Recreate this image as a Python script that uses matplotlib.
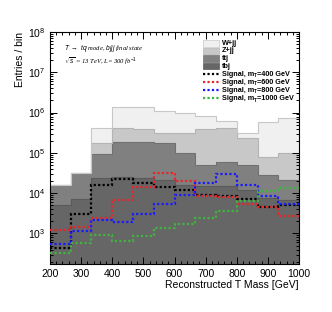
import numpy as np
import matplotlib
matplotlib.use("Agg")
import matplotlib.pyplot as plt
from matplotlib.patches import Rectangle
from matplotlib.ticker import MultipleLocator, LogLocator, NullFormatter

# ---- data ----
bin_edges = [200, 266.67, 333.33, 400, 466.67, 533.33, 600, 666.67, 733.33, 800, 866.67, 933.33, 1000]
tbj = [5100, 7000, 24000, 25000, 24000, 21000, 16000, 15000, 15000, 12000, 7600, 6800]
ttj = [10900, 25000, 68000, 165000, 159000, 152000, 82000, 35000, 44000, 38000, 20400, 14200]
zjj = [0, 0, 84000, 217000, 202000, 133000, 208000, 331000, 348000, 184000, 51000, 79000]
wjj = [0, 0, 231000, 973000, 975000, 794000, 694000, 439000, 213000, 76000, 501000, 620000]
sig400 = [445, 2990, 15700, 22900, 17600, 14500, 11700, 9000, 8500, 7200, 4500, 5100]
sig600 = [1220, 1475, 2380, 6780, 14500, 32300, 20100, 8500, 8050, 5400, 4500, 2720]
sig800 = [540, 1150, 2130, 1930, 2990, 5300, 8770, 17600, 29600, 16300, 8600, 5300]
sig1000 = [334, 590, 918, 652, 867, 1370, 1700, 2470, 3610, 6400, 11100, 13700]

bkg_names = ["tbj", "ttj", "Z+jj", "W+jj"]
bkg_values = [tbj, ttj, zjj, wjj]
bkg_colors = ["#666666", "#808080", "#c8c8c8", "#f0f0f0"]
bkg_edges = ["#5a5a5a", "#707070", "#b4b4b4", "#c8c8c8"]

sig_masses = ["400", "600", "800", "1000"]
sig_values = [sig400, sig600, sig800, sig1000]
sig_colors = ["#000000", "#e8262a", "#1a1aff", "#3fb43f"]

plt.rcParams['font.family'] = ['Liberation Sans', 'DejaVu Sans']
plt.rcParams['mathtext.fontset'] = 'custom'
plt.rcParams['mathtext.rm'] = 'Liberation Sans'
plt.rcParams['mathtext.it'] = 'Liberation Sans:italic'

W, H = 332, 312
fig = plt.figure(figsize=(W/100, H/100), dpi=100)
ax = fig.add_axes([50/W, 1-264/H, 249/W, 232/H])
ax.set_yscale('log')

edges = np.array(bin_edges)
bottom = np.full(len(tbj), 1.0)
for vals, c, ec in zip(bkg_values, bkg_colors, bkg_edges):
    top = bottom + np.array(vals, dtype=float)
    ax.stairs(top, edges, baseline=bottom, fill=True, color=c, zorder=1)
    ax.stairs(top, edges, baseline=None, color=ec, lw=0.8, zorder=1.5)
    bottom = top

dot = (0, (1, 1))
for vals, c in zip(sig_values, sig_colors):
    ax.stairs(vals, edges, baseline=None, color=c, lw=1.6, linestyle=dot, zorder=3)

ax.set_xlim(200, 1000)
ax.set_ylim(175, 1e8)

ax.xaxis.set_major_locator(MultipleLocator(100))
ax.xaxis.set_minor_locator(MultipleLocator(20))
ax.yaxis.set_major_locator(LogLocator(base=10, numticks=20))
ax.yaxis.set_minor_locator(LogLocator(base=10, subs=np.arange(2, 10), numticks=20))
ax.yaxis.set_minor_formatter(NullFormatter())
ax.tick_params(which='both', direction='in', top=True, right=True, labelsize=7.5, width=0.7)
ax.tick_params(which='major', length=5)
ax.tick_params(which='minor', length=2.5)
for s in ax.spines.values():
    s.set_linewidth(0.8)

ax.set_xlabel("Reconstructed T Mass [GeV]", fontsize=7.5, ha='right', x=1.0, labelpad=1)
ax.set_ylabel("Entries / bin", fontsize=7.5, ha='right', y=1.0, labelpad=2)

ax.text(0.055, 0.93, r"$T\ \rightarrow\ tq$ mode, $bjjj$ final state",
        transform=ax.transAxes, fontsize=4.8, style='italic', family='Liberation Serif', va='center')
ax.text(0.055, 0.87, r"$\sqrt{s}$ = 13 TeV, L= 300 fb$^{-1}$",
        transform=ax.transAxes, fontsize=4.8, style='italic', family='Liberation Serif', va='center')

# ---- legend, drawn by hand in axes fraction ----
def ax_x(px):
    return (px - 50) / 249.0

def ax_y(py):
    return (264 - py) / 232.0

row_y = [43.3, 50.9, 58.5, 66.2, 74.0, 82.0, 90.0, 98.2]
bx0, bx1, tx = 202.7, 219.0, 221.5
fs = 5.2
bkg_rows = list(zip(bkg_names[::-1], bkg_colors[::-1], bkg_edges[::-1]))
for (lab, c, ec), ry in zip(bkg_rows, row_y[:4]):
    ax.add_patch(Rectangle((ax_x(bx0), ax_y(ry + 3.2)), ax_x(bx1) - ax_x(bx0),
                           ax_y(ry - 3.2) - ax_y(ry + 3.2), transform=ax.transAxes,
                           facecolor=c, edgecolor=ec, lw=0.5, zorder=5))
    ax.text(ax_x(tx), ax_y(ry), lab, transform=ax.transAxes, fontsize=fs,
            fontweight='bold', va='center', ha='left', zorder=5)

fig.canvas.draw()
renderer = fig.canvas.get_renderer()
inv = ax.transAxes.inverted()
for m, c, ry in zip(sig_masses, sig_colors, row_y[4:]):
    ax.plot([ax_x(bx0), ax_x(bx1)], [ax_y(ry), ax_y(ry)], transform=ax.transAxes,
            color=c, lw=1.6, linestyle=dot, zorder=5)
    t1 = ax.text(ax_x(tx), ax_y(ry), "Signal, m", transform=ax.transAxes, fontsize=fs,
                 fontweight='bold', va='center', ha='left', zorder=5)
    bb = t1.get_window_extent(renderer)
    x1 = inv.transform((bb.x1, bb.y0))[0]
    t2 = ax.text(x1, ax_y(ry + 1.8), "T", transform=ax.transAxes, fontsize=fs * 0.65,
                 fontweight='bold', va='center', ha='left', zorder=5)
    bb2 = t2.get_window_extent(renderer)
    x2 = inv.transform((bb2.x1, bb2.y0))[0]
    ax.text(x2, ax_y(ry), "=" + m + " GeV", transform=ax.transAxes, fontsize=fs,
            fontweight='bold', va='center', ha='left', zorder=5)

fig.savefig("out.png", dpi=100)
